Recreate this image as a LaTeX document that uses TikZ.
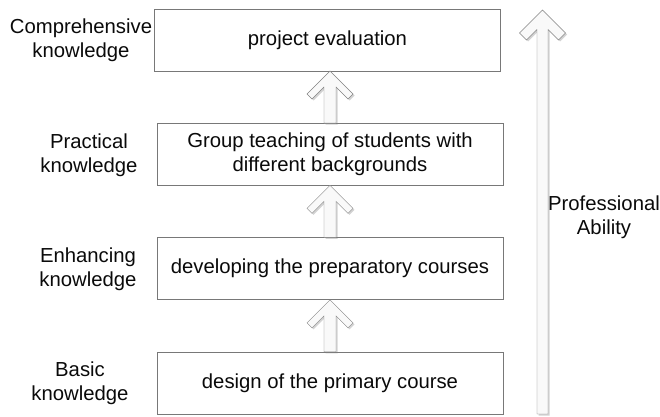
\documentclass[tikz,border=0pt]{standalone}
\usepackage{fontspec}
\setmainfont{Liberation Sans}
\usetikzlibrary{calc, positioning, shadows}

\definecolor{boxgray}{RGB}{120,120,120}
\definecolor{arrgray}{RGB}{130,130,130}
\definecolor{inkgray}{RGB}{10,10,10}

% hollow up arrow: base, tip, head half-width, shaft half-width, arm offset
\newcommand{\hollowarrow}[5]{%
  \draw[harrow] let \p1=(#1), \p2=(#2) in
    (\x1,\y2) -- (\x1+#3,\y2-#3) -- (\x1+#3-#5,\y2-#3-#5)
    -- (\x1+#4,\y2-#4-2*#5) -- (\x1+#4,\y1) -- (\x1-#4,\y1)
    -- (\x1-#4,\y2-#4-2*#5) -- (\x1-#3+#5,\y2-#3-#5)
    -- (\x1-#3,\y2-#3) -- cycle;}

\begin{document}
\begin{tikzpicture}[
      x=1pt, y=1pt,
      font=\fontsize{20.3}{24}\selectfont, text=inkgray,
      node distance=52pt,
      stage/.style={draw=boxgray, fill=white, minimum width=346pt,
                    minimum height=62pt, align=center, inner sep=2pt},
      level/.style={align=center},
      harrow/.style={draw=arrgray, fill=gray!5, line join=miter,
                     drop shadow={shadow xshift=1.5pt, shadow yshift=-1.5pt,
                                  fill=gray, opacity=0.35}}
    ]
    \useasboundingbox (0,0) rectangle (660,416);

    \node[stage] (primary) at (330,33) {design of the primary course};
    \node[stage, above=of primary] (prep) {developing the preparatory courses};
    \node[stage, above=of prep] (group) {Group teaching of students with\\different backgrounds};
    \node[stage, above=of group, xshift=-2.5pt] (eval) {project evaluation};

    \node[level] (basic) at (80,33)  {Basic\\knowledge};
    \node[level] (enh)   at (88,147) {Enhancing\\knowledge};
    \node[level] (prac)  at (89,261) {Practical\\knowledge};
    \node[level] (comp)  at (81,376) {Comprehensive\\knowledge};

    \hollowarrow{primary.north}{prep.south}{23pt}{6pt}{5pt}
    \hollowarrow{prep.north}{group.south}{23pt}{6pt}{5pt}
    \hollowarrow{group.north}{eval.south}{23pt}{6pt}{5pt}

    % long arrow on the right
    \coordinate (abase) at (542.5,2);
    \coordinate (atip)  at (542.5,406);
    \hollowarrow{abase}{atip}{23pt}{5.5pt}{7pt}
    \node[level] (ability) at (604,199) {Professional\\Ability};
  \end{tikzpicture}
\end{document}
